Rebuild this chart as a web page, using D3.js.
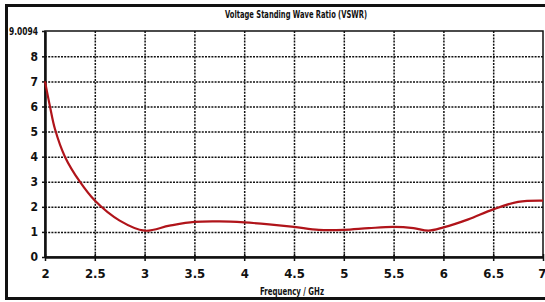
<!DOCTYPE html>
<html>
<head>
<meta charset="utf-8">
<script src="https://cdn.jsdelivr.net/npm/d3@7"></script>
<style>
  body { margin: 0; background: #fff; }
  text { font-family: "DejaVu Sans Condensed", "Liberation Sans Narrow", sans-serif; font-stretch: condensed; font-weight: bold; fill: #111; }
</style>
</head>
<body>
<div id="chart"></div>
<script>
// data
var freq = [2, 2.05, 2.1, 2.2, 2.35, 2.5, 2.75, 3.0, 3.25, 3.5, 3.75, 4.0, 4.25, 4.5, 4.75, 5.0, 5.25, 5.5, 5.7, 5.85, 6.0, 6.25, 6.5, 6.75, 7.0];
var vswr = [7.0, 6.0, 5.1, 4.0, 3.0, 2.25, 1.45, 1.05, 1.25, 1.4, 1.42, 1.38, 1.3, 1.2, 1.08, 1.08, 1.15, 1.2, 1.15, 1.05, 1.18, 1.5, 1.9, 2.2, 2.25];
var xTicks = [2, 2.5, 3, 3.5, 4, 4.5, 5, 5.5, 6, 6.5, 7];
var yTicks = [0, 1, 2, 3, 4, 5, 6, 7, 8, 9.0094];
var title = 'Voltage Standing Wave Ratio (VSWR)';
var xTitle = 'Frequency / GHz';

var W = 545, H = 302;
var margin = {top: 31, left: 45, right: 2, bottom: 45};

var svg = d3.select('#chart')
    .append('svg')
    .attr('width', W)
    .attr('height', H);

// outer frame
svg.append('rect')
    .attr('x', 6.5).attr('y', 5.5)
    .attr('width', W + 10).attr('height', 293)
    .attr('fill', 'none')
    .attr('stroke', '#111')
    .attr('stroke-width', 3);

var x = d3.scaleLinear()
    .domain([2, 7])
    .range([margin.left, W - margin.right]);

var y = d3.scaleLinear()
    .domain([0, 9.0094])
    .range([H - margin.bottom, margin.top]);

// grid
svg.append('g')
    .attr('class', 'grid-x')
    .attr('transform', 'translate(0,' + (H - margin.bottom) + ')')
    .call(d3.axisBottom(x)
        .tickValues(xTicks.slice(1, -1))
        .tickSize(-(H - margin.bottom - margin.top))
        .tickFormat('')
    )
    .call(function(g) { g.select('.domain').remove() })
    .selectAll('line')
    .attr('stroke', '#111')
    .attr('stroke-width', 1.5)
    .attr('stroke-dasharray', '2,1.2');

svg.append('g')
    .attr('class', 'grid-y')
    .attr('transform', 'translate(' + margin.left + ',0)')
    .call(d3.axisLeft(y)
        .tickValues(yTicks.slice(1, -1))
        .tickSize(-(W - margin.right - margin.left))
        .tickFormat('')
    )
    .call(function(g) { g.select('.domain').remove() })
    .selectAll('line')
    .attr('stroke', '#111')
    .attr('stroke-width', 1.5)
    .attr('stroke-dasharray', '2,1.2');

// plot box (top + right thin)
svg.append('rect')
    .attr('x', margin.left)
    .attr('y', margin.top)
    .attr('width', W - margin.right - margin.left)
    .attr('height', H - margin.bottom - margin.top)
    .attr('fill', 'none')
    .attr('stroke', '#111')
    .attr('stroke-width', 1.5);

// axes
var xAxis = svg.append('g')
    .attr('transform', 'translate(0,' + (H - margin.bottom) + ')')
    .call(d3.axisBottom(x)
        .tickValues(xTicks)
        .tickSize(4)
        .tickSizeOuter(0)
        .tickPadding(8)
        .tickFormat(function(d) { return d })
    );
xAxis.select('.domain').attr('stroke', '#111').attr('stroke-width', 2.5);
xAxis.selectAll('.tick line').attr('stroke', '#111').attr('stroke-width', 1.5).attr('y1', -3);
xAxis.selectAll('.tick text')
    .style('font-size', '13px').style('font-weight', 'bold').attr('fill', '#111')
    .attr('text-anchor', function(d) { return d === 7 ? 'end' : 'middle' })
    .attr('dx', function(d) { return d === 7 ? 3 : 0 });

var yAxis = svg.append('g')
    .attr('transform', 'translate(' + margin.left + ',0)')
    .call(d3.axisLeft(y)
        .tickValues(yTicks)
        .tickSize(3)
        .tickSizeOuter(0)
        .tickPadding(4)
        .tickFormat(function(d) { return d === 9.0094 ? '9.0094' : d })
    );
yAxis.select('.domain').attr('stroke', '#111').attr('stroke-width', 2.5);
yAxis.selectAll('.tick line').attr('stroke', '#111').attr('stroke-width', 1.5);
yAxis.selectAll('.tick text').style('font-size', '12px').style('font-weight', 'bold').attr('fill', '#111')
    .filter(function(d) { return d === 9.0094 })
    .style('font-size', '11px')
    .attr('textLength', 29)
    .attr('lengthAdjust', 'spacingAndGlyphs');

// curve
var line = d3.line()
    .x(function(d, i) { return x(freq[i]) })
    .y(function(d) { return y(d) })
    .curve(d3.curveCatmullRom.alpha(0.5));

svg.append('path')
    .datum(vswr)
    .attr('d', line)
    .attr('fill', 'none')
    .attr('stroke', '#b0141a')
    .attr('stroke-width', 2.2);

// titles
svg.append('text')
    .attr('x', 296)
    .attr('y', 18)
    .attr('text-anchor', 'middle')
    .style('font-size', '11px')
    .attr('textLength', 142)
    .attr('lengthAdjust', 'spacingAndGlyphs')
    .text(title);

svg.append('text')
    .attr('x', 292)
    .attr('y', 295)
    .attr('text-anchor', 'middle')
    .style('font-size', '11px')
    .attr('textLength', 64)
    .attr('lengthAdjust', 'spacingAndGlyphs')
    .text(xTitle);
</script>
</body>
</html>
